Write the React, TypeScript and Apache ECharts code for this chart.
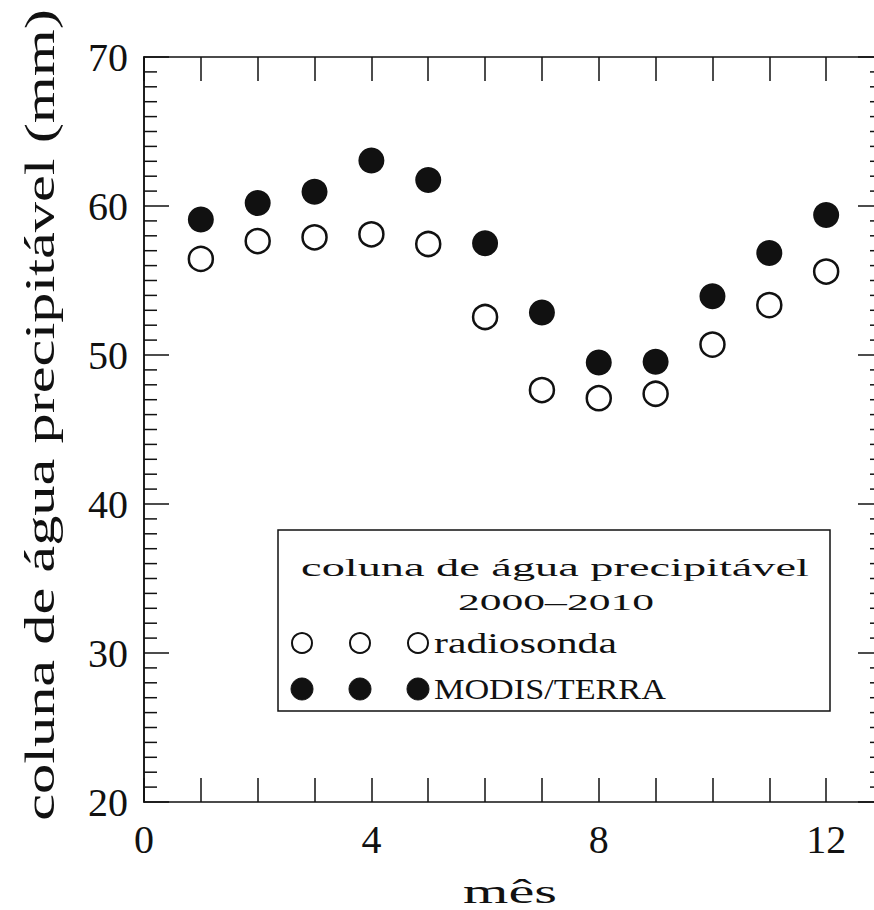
import React, { useEffect, useRef } from "react";
import * as echarts from "echarts";

// ---- data ----
const months = [1, 2, 3, 4, 5, 6, 7, 8, 9, 10, 11, 12];
const radiosonda = [56.45, 57.65, 57.9, 58.1, 57.45, 52.55, 47.65, 47.1, 47.4, 50.7, 53.35, 55.6];
const modisTerra = [59.1, 60.2, 60.95, 63.05, 61.75, 57.5, 52.85, 49.5, 49.55, 53.95, 56.85, 59.4];
const xLabelValues = [0, 4, 8, 12];
const xRange = [0, 13];
const yRange = [20, 70];
const yMajorStep = 10;
const yMinorStep = 1;
const seriesNames = ["radiosonda", "MODIS/TERRA"];
const yAxisTitle = "coluna de água precipitável (mm)";
const xAxisTitle = "mês";
const legendTitle = "coluna de água precipitável";
const legendPeriod = "2000–2010";

const FONT = '"Liberation Serif", "DejaVu Serif", serif';
const INK = "#111";
const W = 900;
const H = 910;
const MAJOR_LEN = 25;
const MINOR_LEN = 13;

function measure(text: string, size: number): number {
  const t = new (echarts.graphic as any).Text({
    style: { text, fontSize: size, fontFamily: FONT },
  });
  return t.getBoundingRect().width;
}

function stretched(
  text: string,
  x: number,
  y: number,
  size: number,
  width: number,
  align: string = "center",
  rotation: number = 0,
  vAlign: string = "middle"
) {
  const w = measure(text, size);
  const s = w > 0 ? width / w : 1;
  return {
    type: "text",
    x,
    y,
    rotation,
    scaleX: s,
    z: 20,
    style: {
      text,
      fontSize: size,
      fontFamily: FONT,
      fill: INK,
      textAlign: align,
      textVerticalAlign: vAlign,
      align,
      verticalAlign: vAlign,
    },
  };
}

export default function App() {
  const ref = useRef<HTMLDivElement>(null);

  useEffect(() => {
    document.documentElement.style.overflow = "hidden";
    document.body.style.overflow = "hidden";
    if (!ref.current) return;
    const chart = echarts.init(ref.current, null, { renderer: "svg" });

    const lineStyle = { color: INK, width: 1.5 };
    const labelStyle = { fontFamily: FONT, fontSize: 40, color: INK };

    // y-axis tick positions (major every 10, minor every 1), drawn inward on both sides
    const yTickData: number[][] = [];
    for (let v = yRange[0]; v <= yRange[1]; v += yMinorStep) {
      yTickData.push([xRange[0], v, v % yMajorStep === 0 ? MAJOR_LEN : MINOR_LEN]);
    }

    const legendXs = [302, 360, 418];
    const row1 = 643;
    const row2 = 689;

    const graphic: any[] = [
      {
        type: "rect",
        z: 10,
        shape: { x: 278, y: 530, width: 552, height: 181 },
        style: { fill: "#fff", stroke: INK, lineWidth: 1.5 },
      },
      stretched(legendTitle, 555, 567, 26, 508),
      stretched(legendPeriod, 556, 602, 24, 196),
      stretched(seriesNames[0], 434, row1, 29, 183, "left"),
      stretched(seriesNames[1], 434, row2, 29, 232, "left"),
      stretched(xAxisTitle, 510, 908, 33, 94, "center", 0, "bottom"),
      stretched(yAxisTitle, 39, 415, 43, 812, "center", Math.PI / 2),
    ];
    legendXs.forEach((cx) => {
      graphic.push({
        type: "circle",
        z: 20,
        shape: { cx, cy: row1, r: 10 },
        style: { fill: "#fff", stroke: INK, lineWidth: 2 },
      });
      graphic.push({
        type: "circle",
        z: 20,
        shape: { cx, cy: row2, r: 11 },
        style: { fill: INK, stroke: INK, lineWidth: 1 },
      });
    });

    const mkX = (position: string, labels: boolean) => ({
      type: "value",
      position,
      min: xRange[0],
      max: xRange[1],
      interval: 1,
      axisLine: { show: true, lineStyle },
      axisTick: { show: true, inside: true, length: 24, lineStyle },
      axisLabel: labels
        ? {
            ...labelStyle,
            margin: 17,
            showMaxLabel: false,
            formatter: (v: number) => (xLabelValues.indexOf(v) >= 0 ? String(v) : ""),
          }
        : { show: false },
      splitLine: { show: false },
    });

    const mkY = (position: string, labels: boolean) => ({
      type: "value",
      position,
      min: yRange[0],
      max: yRange[1],
      interval: yMajorStep,
      axisLine: { show: true, lineStyle },
      axisTick: { show: false },
      axisLabel: labels ? { ...labelStyle, margin: 16 } : { show: false },
      splitLine: { show: false },
    });

    const option: any = {
      animation: false,
      backgroundColor: "#fff",
      grid: { left: 144, top: 57, right: W - 883, bottom: H - 802, containLabel: false },
      xAxis: [mkX("bottom", true), mkX("top", false)],
      yAxis: [mkY("left", true), mkY("right", false)],
      series: [
        {
          type: "custom",
          name: "yTicks",
          xAxisIndex: 0,
          yAxisIndex: 0,
          silent: true,
          clip: false,
          z: 1,
          data: yTickData,
          renderItem: (_params: any, api: any) => {
            const v = api.value(1);
            const len = api.value(2);
            const pL = api.coord([xRange[0], v]);
            const pR = api.coord([xRange[1], v]);
            const st = { stroke: INK, lineWidth: 1.5 };
            return {
              type: "group",
              children: [
                { type: "line", shape: { x1: pL[0], y1: pL[1], x2: pL[0] + len, y2: pL[1] }, style: st },
                { type: "line", shape: { x1: pR[0] - len, y1: pR[1], x2: pR[0], y2: pR[1] }, style: st },
              ],
            };
          },
        },
        {
          name: seriesNames[0],
          type: "scatter",
          xAxisIndex: 0,
          yAxisIndex: 0,
          symbol: "circle",
          symbolSize: 24,
          itemStyle: { color: "#fff", borderColor: INK, borderWidth: 2.5, opacity: 1 },
          data: months.map((m, i) => [m, radiosonda[i]]),
        },
        {
          name: seriesNames[1],
          type: "scatter",
          xAxisIndex: 0,
          yAxisIndex: 0,
          symbol: "circle",
          symbolSize: 26,
          itemStyle: { color: INK, borderColor: INK, borderWidth: 0, opacity: 1 },
          data: months.map((m, i) => [m, modisTerra[i]]),
        },
      ],
      graphic,
    };

    chart.setOption(option);
    return () => chart.dispose();
  }, []);

  return (
    <div
      ref={ref}
      style={{ position: "fixed", left: 0, top: 0, width: W, height: H, background: "#fff" }}
    />
  );
}
